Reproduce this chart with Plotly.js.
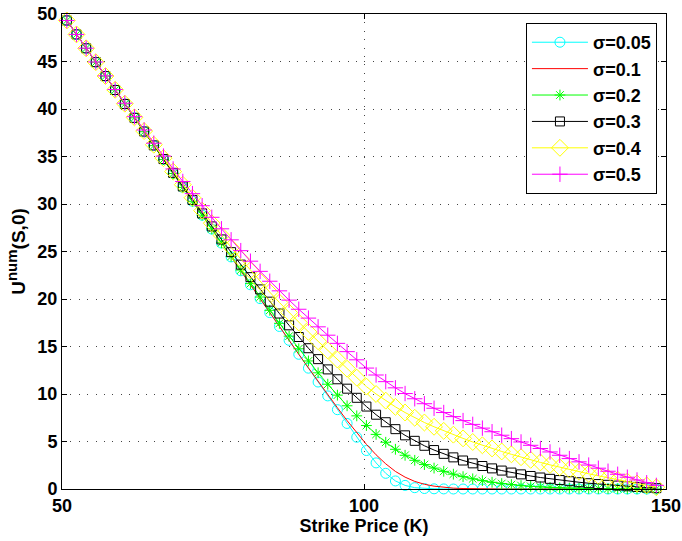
<!DOCTYPE html>
<html>
<head>
<meta charset="utf-8">
<script src="https://cdn.plot.ly/plotly-3.0.1.min.js"></script>
<style>html,body{margin:0;padding:0;background:#fff;}#chart{width:682px;height:541px;}</style>
</head>
<body>
<div id="chart"></div>
<script>
const strikes = [50.8,52.4,54.0,55.6,57.2,58.8,60.4,62.0,63.6,65.2,66.8,68.4,70.0,71.6,73.2,74.8,76.4,78.0,79.6,81.2,82.8,84.4,86.0,87.6,89.2,90.8,92.4,94.0,95.6,97.2,98.8,100.4,102.0,103.6,105.2,106.8,108.4,110.0,111.6,113.2,114.8,116.4,118.0,119.6,121.2,122.8,124.4,126.0,127.6,129.2,130.8,132.4,134.0,135.6,137.2,138.8,140.4,142.0,143.6,145.2,146.8,148.4];

const sigma005 = [49.32,47.85,46.39,44.93,43.46,42.00,40.53,39.07,37.61,36.14,34.68,33.21,31.75,30.29,28.82,27.36,25.89,24.43,22.97,21.50,20.04,18.57,17.11,15.65,14.18,12.72,11.26,9.8,8.35,6.9,5.45,4.05,2.75,1.65,0.85,0.38,0.14,0.05,0.02,0.01,0,0,0,0,0,0,0,0,0,0,0,0,0,0,0,0,0,0,0,0,0,0];

const sigma01 = [49.32,47.85,46.39,44.93,43.46,42.00,40.53,39.07,37.61,36.14,34.68,33.21,31.75,30.29,28.82,27.36,25.89,24.43,22.97,21.50,20.04,18.57,17.11,15.65,14.18,12.75,11.32,9.92,8.55,7.2,5.9,4.7,3.6,2.65,1.85,1.25,0.8,0.5,0.3,0.17,0.09,0.05,0.02,0.01,0,0,0,0,0,0,0,0,0,0,0,0,0,0,0,0,0,0];

const sigma02 = [49.32,47.85,46.39,44.93,43.46,42.00,40.53,39.07,37.61,36.14,34.68,33.21,31.75,30.29,28.83,27.38,25.92,24.48,23.05,21.62,20.21,18.81,17.44,16.09,14.76,13.48,12.23,11.03,9.88,8.76,7.7,6.68,5.75,4.92,4.18,3.55,3.02,2.57,2.2,1.86,1.56,1.3,1.07,0.88,0.71,0.57,0.46,0.36,0.28,0.22,0.17,0.13,0.1,0.08,0.06,0.05,0.04,0.03,0.02,0.02,0.01,0.01];

const sigma03 = [49.32,47.85,46.39,44.93,43.46,42.00,40.53,39.07,37.63,36.17,34.73,33.28,31.85,30.43,29.01,27.64,26.27,24.93,23.62,22.3,21.01,19.72,18.47,17.23,16.0,14.82,13.67,12.59,11.55,10.56,9.6,8.68,7.82,7.03,6.3,5.65,5.07,4.55,4.1,3.7,3.33,3.0,2.7,2.42,2.17,1.94,1.73,1.54,1.37,1.21,1.07,0.94,0.82,0.71,0.61,0.52,0.44,0.36,0.29,0.22,0.15,0.09];

const sigma04 = [49.32,47.85,46.39,44.93,43.47,42.02,40.56,39.12,37.68,36.24,34.82,33.41,32.03,30.66,29.3,27.98,26.69,25.43,24.22,23.02,21.86,20.72,19.63,18.57,17.53,16.54,15.55,14.59,13.63,12.66,11.72,10.78,10.0,9.3,8.65,8.05,7.5,7.0,6.55,6.12,5.72,5.33,4.95,4.6,4.27,3.95,3.65,3.35,3.07,2.8,2.54,2.29,2.05,1.82,1.6,1.39,1.18,0.98,0.78,0.58,0.38,0.18];

const sigma05 = [49.32,47.85,46.40,44.95,43.49,42.05,40.61,39.19,37.79,36.40,35.04,33.69,32.37,31.09,29.82,28.60,27.39,26.23,25.09,23.98,22.91,21.87,20.86,19.88,18.92,17.99,17.07,16.19,15.33,14.46,13.60,12.73,12.0,11.3,10.65,10.05,9.5,8.98,8.5,8.05,7.62,7.2,6.8,6.41,6.03,5.66,5.3,4.95,4.6,4.26,3.9,3.55,3.2,2.86,2.52,2.19,1.87,1.55,1.24,0.95,0.66,0.38];

const seriesNames = ['σ=0.05','σ=0.1','σ=0.2','σ=0.3','σ=0.4','σ=0.5'];
const xTickVals = [50,100,150];
const yTickVals = [0,5,10,15,20,25,30,35,40,45,50];

const FONT = 'Liberation Sans, Arial, Helvetica, sans-serif';

function mk(y, name, color, symbol, size, withMarker){
  const t = {
    x: strikes, y: y, name: name, type: 'scatter',
    mode: withMarker ? 'lines+markers' : 'lines',
    line: {color: color, width: 1},
    cliponaxis: false
  };
  if (withMarker) {
    t.marker = {symbol: symbol, size: size, color: color, line: {color: color, width: 1}};
  }
  return t;
}

const data = [
  mk(sigma005, seriesNames[0], '#00ffff', 'circle-open', 10, true),
  mk(sigma01,  seriesNames[1], '#ff0000', null, 0, false),
  mk(sigma02,  seriesNames[2], '#00ff00', 'asterisk-open', 9, true),
  mk(sigma03,  seriesNames[3], '#000000', 'square-open', 9, true),
  mk(sigma04,  seriesNames[4], '#ffff00', 'diamond-open', 13, true),
  mk(sigma05,  seriesNames[5], '#ff00ff', 'cross-thin-open', 11, true)
];

const axisCommon = {
  showline: true, linecolor: '#000', linewidth: 1, mirror: 'allticks',
  ticks: 'inside', ticklen: 5, tickcolor: '#000', tickwidth: 1,
  showgrid: true, gridcolor: '#444', gridwidth: 1, griddash: '1px,7.4px',
  zeroline: false, fixedrange: true,
  tickfont: {family: FONT, size: 18, color: '#000', weight: 'bold'}
};

const layout = {
  width: 682, height: 541,
  margin: {l: 62, r: 16, t: 14, b: 52, pad: 0},
  paper_bgcolor: '#fff', plot_bgcolor: '#fff',
  font: {family: FONT, color: '#000'},
  showlegend: true,
  xaxis: Object.assign({}, axisCommon, {
    range: [50,150], tickmode: 'array', tickvals: xTickVals, ticktext: xTickVals.map(String),
    title: {text: 'Strike Price (K)', font: {family: FONT, size: 18, color: '#000', weight: 'bold'}, standoff: 2}
  }),
  yaxis: Object.assign({}, axisCommon, {
    range: [0,50], tickmode: 'array', tickvals: yTickVals, ticktext: yTickVals.map(String),
    title: {text: 'U<sup><span style="font-size:15px">num</span></sup>(S,0)', font: {family: FONT, size: 19, color: '#000', weight: 'bold'}, standoff: 6}
  }),
  legend: {
    x: 0.985, y: 0.981, xanchor: 'right', yanchor: 'top',
    bgcolor: '#fff', bordercolor: '#000', borderwidth: 1,
    font: {family: FONT, size: 18, color: '#000', weight: 'bold'},
    itemwidth: 56, tracegroupgap: 0
  }
};

Plotly.newPlot('chart', data, layout, {displayModeBar: false, staticPlot: true});
</script>
</body>
</html>
